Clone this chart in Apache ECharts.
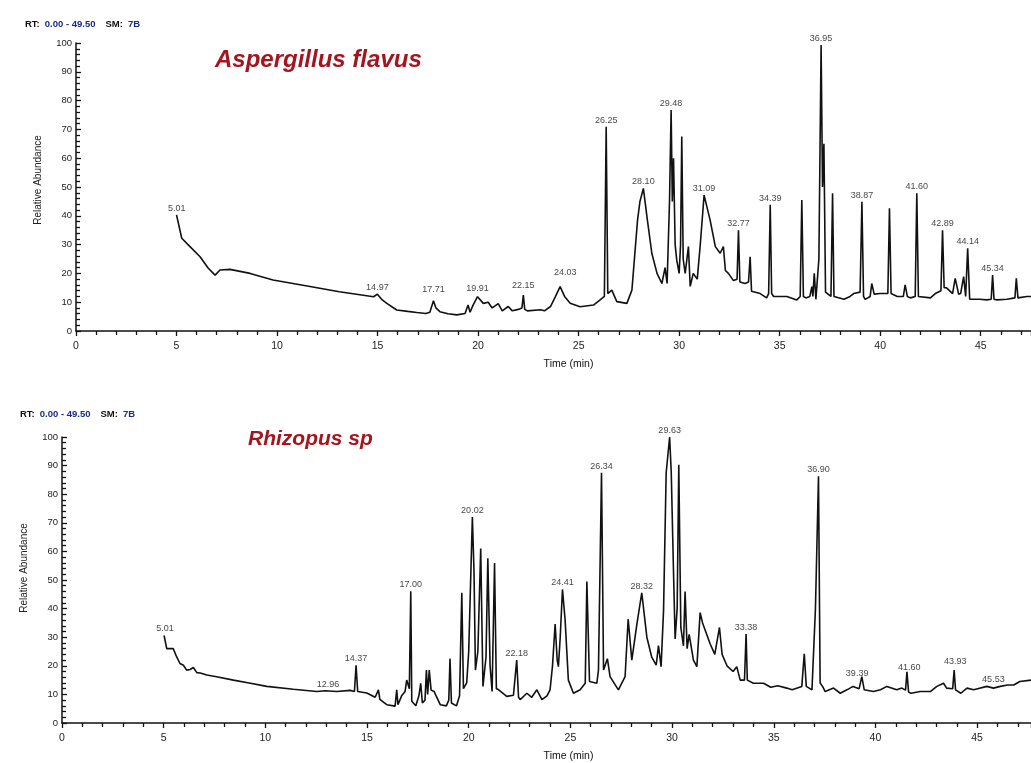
<!DOCTYPE html>
<html>
<head>
<meta charset="utf-8">
<script src="https://cdn.jsdelivr.net/npm/echarts@6/dist/echarts.min.js"></script>
<style>
  html, body { margin: 0; padding: 0; background: #fff; }
  #main { width: 1031px; height: 763px; }
</style>
</head>
<body>
<div id="main"></div>
<script>
// Aspergillus flavus trace (time in min, relative abundance)
var timeA = [5.0, 5.26, 5.67, 6.17, 6.58, 6.92, 7.16, 7.66, 8.66, 9.8, 11.5, 13.1, 14.8, 14.99, 15.2, 15.46, 15.95, 16.5, 16.95, 17.4,
  17.6, 17.78, 17.9, 18.1, 18.5, 18.94, 19.35, 19.5, 19.6, 19.75, 19.97, 20.26, 20.5, 20.7, 21.0, 21.2, 21.5, 21.7, 22.0, 22.18,
  22.25, 22.32, 22.45, 23.1, 23.3, 23.6, 23.85, 24.08, 24.3, 24.58, 25.07, 25.74, 26.07, 26.28, 26.37, 26.45, 26.65, 26.9, 27.4, 27.65,
  27.93, 28.05, 28.22, 28.42, 28.64, 28.9, 29.14, 29.3, 29.4, 29.52, 29.6, 29.66, 29.72, 29.8, 29.88, 30.0, 30.07, 30.13, 30.2, 30.3,
  30.46, 30.55, 30.7, 30.9, 31.05, 31.24, 31.54, 31.8, 32.04, 32.2, 32.3, 32.45, 32.7, 32.88, 32.95, 33.02, 33.28, 33.45, 33.53, 33.6,
  34.03, 34.35, 34.45, 34.53, 34.6, 34.7, 35.36, 35.85, 36.02, 36.1, 36.18, 36.3, 36.5, 36.6, 36.65, 36.72, 36.8, 36.95, 37.06, 37.13,
  37.2, 37.28, 37.55, 37.63, 37.7, 37.75, 38.2, 38.5, 38.68, 39.0, 39.09, 39.17, 39.25, 39.5, 39.58, 39.7, 40.0, 40.38, 40.46, 40.54,
  40.6, 40.85, 41.15, 41.24, 41.35, 41.5, 41.74, 41.82, 41.9, 41.98, 42.5, 42.74, 43.02, 43.1, 43.18, 43.3, 43.6, 43.73, 43.9, 44.0,
  44.15, 44.25, 44.35, 44.45, 44.95, 45.3, 45.52, 45.59, 45.66, 45.8, 46.3, 46.7, 46.77, 46.85, 47.3, 47.5];
var abundA = [40.3, 32.2, 29.3, 25.8, 21.8, 19.4, 21.2, 21.4, 20.0, 17.7, 15.6, 13.6, 11.9, 12.8, 11.0, 9.6, 7.3, 6.8, 6.4, 6.1,
  6.5, 10.5, 8.0, 6.7, 6.0, 5.6, 6.1, 9.0, 6.5, 9.0, 11.9, 9.6, 10.0, 8.0, 9.5, 7.0, 8.5, 7.0, 7.5, 8.0,
  12.5, 7.5, 7.0, 7.4, 7.0, 8.5, 12.0, 15.4, 12.0, 9.6, 8.4, 9.0, 10.8, 12.0, 70.9, 13.0, 14.2, 10.2, 9.6, 14.2,
  38.5, 45.0, 49.5, 38.5, 27.0, 20.0, 16.5, 22.0, 16.5, 45.0, 76.7, 45.0, 60.0, 30.0, 24.6, 20.0, 30.0, 67.5, 25.0, 20.0,
  29.3, 15.5, 20.0, 18.0, 30.0, 47.2, 38.5, 29.3, 27.0, 29.3, 21.0, 20.0, 17.5, 18.0, 35.0, 17.0, 16.5, 17.0, 25.8, 13.8,
  13.0, 11.5, 13.0, 43.8, 13.0, 12.0, 12.0, 10.8, 12.0, 45.5, 12.0, 11.5, 12.0, 15.4, 12.0, 20.0, 11.0, 25.0, 99.3, 50.0,
  65.0, 13.5, 12.0, 47.8, 12.0, 11.5, 11.0, 12.0, 13.0, 13.5, 44.9, 12.0, 11.0, 12.0, 16.5, 12.8, 13.0, 13.0, 42.6, 13.0,
  13.5, 12.0, 12.0, 16.0, 12.0, 11.5, 12.0, 47.8, 12.0, 11.5, 11.5, 13.0, 14.0, 35.0, 15.0, 15.0, 13.0, 18.3, 12.8, 13.0,
  18.9, 12.0, 28.7, 11.0, 11.0, 10.8, 11.0, 19.4, 11.0, 10.8, 11.0, 11.5, 18.3, 11.5, 12.0, 12.0];

// Rhizopus sp trace
var timeR = [5.02, 5.15, 5.23, 5.47, 5.64, 5.8, 5.97, 6.13, 6.3, 6.46,
  6.63, 6.8, 7.12, 7.6, 8.43, 9.2, 10.07, 11.38, 12.53, 12.96,
  13.5, 14.17, 14.38, 14.46, 14.54, 14.99, 15.4, 15.48, 15.56, 15.63,
  15.97, 16.38, 16.46, 16.52, 16.7, 16.87, 16.95, 17.08, 17.15, 17.2,
  17.4, 17.55, 17.64, 17.72, 17.85, 17.92, 17.98, 18.06, 18.15, 18.3,
  18.6, 18.9, 19.02, 19.08, 19.15, 19.4, 19.55, 19.66, 19.74, 19.9,
  20.0, 20.18, 20.26, 20.33, 20.45, 20.59, 20.7, 20.85, 20.94, 21.05,
  21.15, 21.27, 21.36, 21.46, 21.87, 22.2, 22.36, 22.45, 22.53, 22.86,
  23.1, 23.35, 23.6, 23.85, 24.0, 24.12, 24.25, 24.35, 24.41, 24.5,
  24.61, 24.74, 24.9, 25.15, 25.48, 25.73, 25.81, 25.94, 26.3, 26.38,
  26.53, 26.63, 26.82, 26.95, 27.36, 27.69, 27.84, 28.02, 28.27, 28.51,
  28.76, 29.0, 29.22, 29.33, 29.46, 29.58, 29.71, 29.88, 29.96, 30.07,
  30.15, 30.25, 30.33, 30.43, 30.56, 30.64, 30.74, 30.84, 31.05, 31.22,
  31.38, 31.5, 31.87, 32.1, 32.33, 32.46, 32.7, 33.0, 33.18, 33.35,
  33.56, 33.64, 33.7, 34.0, 34.5, 34.85, 35.2, 35.64, 35.9, 36.38,
  36.5, 36.6, 36.88, 37.05, 37.2, 37.28, 37.4, 37.53, 37.94, 38.27,
  38.6, 38.9, 39.2, 39.33, 39.45, 39.9, 40.25, 40.56, 41.05, 41.3,
  41.48, 41.55, 41.63, 41.75, 42.2, 42.7, 43.02, 43.35, 43.5, 43.8,
  43.87, 43.94, 44.2, 44.5, 44.83, 45.48, 45.8, 46.14, 46.5, 46.8,
  47.1, 47.65];
var abundR = [30.6, 26.0, 26.5, 26.0, 23.1, 20.8, 20.2, 18.5, 18.7, 19.4,
  17.6, 17.5, 16.8, 16.2, 15.0, 14.0, 12.8, 11.8, 11.0, 11.3,
  11.0, 11.4, 11.0, 20.2, 11.0, 10.5, 9.0, 8.7, 11.6, 8.3,
  6.4, 5.9, 11.6, 6.4, 9.5, 11.0, 15.0, 12.0, 46.1, 7.6,
  6.0, 9.5, 13.9, 7.0, 8.0, 18.5, 10.0, 18.5, 11.5, 11.0,
  6.4, 6.0, 8.0, 22.5, 7.0, 6.0, 9.5, 45.5, 12.0, 14.0,
  25.0, 72.0, 53.0, 18.5, 25.0, 61.0, 12.8, 23.0, 57.6, 20.0,
  11.0, 55.9, 12.0, 11.7, 9.3, 9.7, 22.0, 9.0, 8.2, 10.4,
  9.0, 11.6, 8.2, 9.5, 11.6, 20.0, 34.6, 22.0, 19.7, 30.0,
  46.7, 36.0, 15.0, 10.4, 11.6, 13.9, 49.5, 14.5, 13.9, 18.5,
  87.5, 18.5, 22.5, 16.2, 11.6, 16.2, 36.3, 22.0, 34.6, 45.5,
  30.0, 23.0, 20.2, 27.1, 19.7, 39.2, 87.5, 100.0, 87.5, 53.0,
  29.4, 40.0, 90.3, 33.4, 27.0, 46.0, 26.0, 31.0, 22.0, 19.7,
  38.6, 35.0, 27.7, 24.0, 33.4, 24.0, 20.0, 18.0, 19.7, 15.0,
  15.0, 31.1, 15.0, 13.9, 13.9, 12.5, 13.0, 12.2, 11.6, 12.8,
  24.2, 12.8, 11.6, 40.0, 86.3, 14.0, 12.8, 11.0, 12.2, 10.4,
  11.6, 12.8, 12.0, 16.2, 11.6, 11.0, 11.6, 12.8, 11.6, 12.2,
  11.5, 17.9, 10.8, 10.4, 11.0, 11.0, 12.8, 13.9, 12.2, 12.0,
  18.5, 11.6, 10.4, 12.2, 11.6, 12.8, 12.2, 12.8, 13.3, 13.3,
  14.5, 15.0];

// peak labels (text, position above the apex)
var lblTextA = ['5.01', '14.97', '17.71', '19.91', '22.15', '24.03', '26.25', '28.10', '29.48', '31.09', '32.77', '34.39',
  '36.95', '38.87', '41.60', '42.89', '44.14', '45.34'];
var lblTimeA = [5.01, 14.99, 17.78, 19.97, 22.25, 24.33, 26.37, 28.22, 29.6, 31.24, 32.95, 34.53, 37.06, 39.09, 41.82, 43.1, 44.35, 45.59];
var lblValA = [40.3, 12.8, 12.0, 12.5, 13.5, 18.0, 70.9, 49.5, 76.7, 47.2, 35.0, 43.8, 99.3, 44.9, 47.8, 35.0, 28.7, 19.4];

var lblTextR = ['5.01', '12.96', '14.37', '17.00', '20.02', '22.18', '24.41', '26.34', '28.32', '29.63', '33.38', '36.90',
  '39.39', '41.60', '43.93', '45.53'];
var lblTimeR = [5.07, 13.08, 14.46, 17.15, 20.18, 22.36, 24.61, 26.53, 28.51, 29.88, 33.64, 37.2, 39.1, 41.66, 43.92, 45.8];
var lblValR = [30.6, 11.3, 20.2, 46.1, 72.0, 22.0, 46.7, 87.5, 45.5, 100.0, 31.1, 86.3, 15.2, 17.2, 19.3, 13.0];

function zip(ts, vs) {
  return ts.map(function (t, i) { return [t, vs[i]]; });
}
function labelData(txt, ts, vs) {
  return txt.map(function (s, i) { return { name: s, value: [ts[i], vs[i]] }; });
}

var font = 'Liberation Sans, Arial, sans-serif';

function xAxisFor(gi, max, shift) {
  return {
    type: 'value', gridIndex: gi, min: 0, max: max, interval: 5,
    name: 'Time (min)', nameLocation: 'middle', nameGap: 28,
    nameTextStyle: { fontSize: 10.5, color: '#111', fontFamily: font, padding: [0, 0, 0, shift] },
    axisLine: { lineStyle: { color: '#111', width: 1.5 } },
    axisTick: { length: 5, lineStyle: { color: '#111', width: 1.3 } },
    minorTick: { show: true, splitNumber: 5, length: 4, lineStyle: { color: '#111', width: 1.3 } },
    axisLabel: { fontSize: 10.5, color: '#222', fontFamily: font, margin: 10, showMaxLabel: false },
    splitLine: { show: false }
  };
}
function yAxisFor(gi, shift) {
  return {
    type: 'value', gridIndex: gi, min: 0, max: 100, interval: 10,
    name: 'Relative Abundance', nameLocation: 'middle', nameGap: 33, nameRotate: 90,
    nameTextStyle: { fontSize: 10, color: '#222', fontFamily: font, padding: [0, 0, 0, shift] },
    axisLine: { show: true, lineStyle: { color: '#111', width: 1.5 } },
    axisTick: { show: true, inside: true, length: 5, lineStyle: { color: '#111', width: 1.3 } },
    minorTick: { show: true, splitNumber: 5, length: 4, lineStyle: { color: '#111', width: 1.3 } },
    axisLabel: { fontSize: 9.5, color: '#222', fontFamily: font, margin: 4 },
    splitLine: { show: false }
  };
}
function traceSeries(idx, data) {
  return {
    type: 'line', xAxisIndex: idx, yAxisIndex: idx, data: data,
    showSymbol: false, symbol: 'none', silent: true,
    lineStyle: { color: '#111', width: 1.6 }
  };
}
function labelSeries(idx, data) {
  return {
    type: 'scatter', xAxisIndex: idx, yAxisIndex: idx, data: data,
    symbolSize: 0, silent: true,
    label: {
      show: true, position: 'top', distance: 2, formatter: '{b}',
      fontSize: 9, color: '#111', fontFamily: font
    }
  };
}

var rtRich = {
  k: { fontSize: 9.5, color: '#111', fontFamily: font },
  v: { fontSize: 9.5, color: '#1a2a8a', fontFamily: font }
};
var rtText = '{k|RT:} {v|0.00 - 49.50}  {k|SM:} {v|7B}';

var chart = echarts.init(document.getElementById('main'));
var option = {
  backgroundColor: '#fff',
  animation: false,
  title: [
    { text: 'Aspergillus flavus', left: 215, top: 48, padding: 0,
      textStyle: { fontSize: 24, fontStyle: 'italic', fontWeight: 'bold', color: '#a3151f', fontFamily: font } },
    { text: 'Rhizopus sp', left: 248, top: 429, padding: 0,
      textStyle: { fontSize: 21, fontStyle: 'italic', fontWeight: 'bold', color: '#a3151f', fontFamily: font } },
    { text: rtText, left: 25, top: 15, padding: 0, textStyle: { rich: rtRich } },
    { text: rtText, left: 20, top: 405, padding: 0, textStyle: { rich: rtRich } }
  ],
  grid: [
    { left: 76, right: 0, top: 43, height: 288 },
    { left: 62, right: 0, top: 437, height: 290 }
  ],
  xAxis: [xAxisFor(0, 47.5, 30), xAxisFor(1, 47.65, 44)],
  yAxis: [yAxisFor(0, 14), yAxisFor(1, 24)],
  series: [
    traceSeries(0, zip(timeA, abundA)),
    labelSeries(0, labelData(lblTextA, lblTimeA, lblValA)),
    traceSeries(1, zip(timeR, abundR)),
    labelSeries(1, labelData(lblTextR, lblTimeR, lblValR))
  ]
};
chart.setOption(option);
</script>
</body>
</html>
